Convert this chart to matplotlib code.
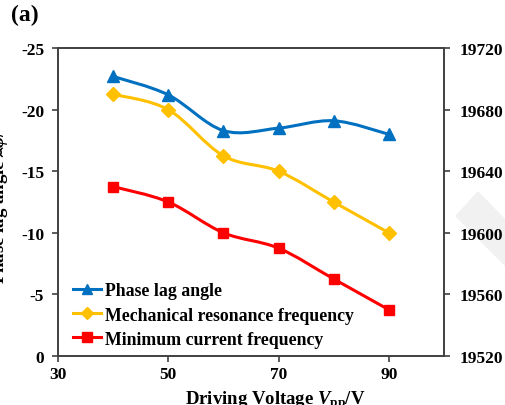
import numpy as np
import matplotlib
matplotlib.use('Agg')
import matplotlib.pyplot as plt
from matplotlib.path import Path
from matplotlib.patches import PathPatch, Polygon
from matplotlib.lines import Line2D

plt.rcParams['font.family'] = 'Liberation Serif'
plt.rcParams['font.weight'] = 'bold'
plt.rcParams['axes.labelweight'] = 'bold'
plt.rcParams['axes.unicode_minus'] = False
plt.rcParams['mathtext.fontset'] = 'custom'
plt.rcParams['mathtext.rm'] = 'Liberation Serif:bold'
plt.rcParams['mathtext.it'] = 'Liberation Serif:italic:bold'

# Data
voltage = [40, 50, 60, 70, 80, 90]
phase_lag = [-22.7, -21.2, -18.3, -18.5, -19.1, -18.0]
mech_freq = [19690, 19680, 19650, 19640, 19620, 19600]
min_current_freq = [19630, 19620, 19600, 19590, 19570, 19550]

x_ticks = [30, 50, 70, 90]
left_ticks = [0, -5, -10, -15, -20, -25]
right_ticks = [19520, 19560, 19600, 19640, 19680, 19720]

blue = '#0070C0'
yellow = '#FFC000'
red = '#FF0000'


def smooth_path(x, y):
    """Excel-style smoothed line: cubic Bezier segments through the points."""
    pts = np.column_stack([x, y]).astype(float)
    n = len(pts)
    verts = [pts[0]]
    codes = [Path.MOVETO]
    for i in range(n - 1):
        p0 = pts[i - 1] if i > 0 else pts[i]
        p1 = pts[i]
        p2 = pts[i + 1]
        p3 = pts[i + 2] if i + 2 < n else pts[i + 1]
        c1 = p1 + (p2 - p0) / 6.0
        c2 = p2 - (p3 - p1) / 6.0
        verts += [c1, c2, p2]
        codes += [Path.CURVE4] * 3
    return Path(verts, codes)


fig = plt.figure(figsize=(5.05, 4.06), dpi=100)
ax = fig.add_axes([0.115, 0.121, 0.764, 0.758])
ax2 = ax.twinx()

# faint watermark on the right edge, behind everything
fig.patches.append(Polygon([(455 / 505, 1 - 217 / 406), (478 / 505, 1 - 192 / 406),
                            (505 / 505, 1 - 220 / 406), (505 / 505, 1 - 267 / 406)],
                           closed=True, transform=fig.transFigure,
                           facecolor='#f1f1f1', edgecolor='none', zorder=-5))

ax.add_patch(PathPatch(smooth_path(voltage, phase_lag), facecolor='none',
                       edgecolor=blue, lw=2.2, zorder=3))
ax.plot(voltage, phase_lag, ls='none', marker='^', ms=8, color=blue, zorder=4)

ax2.add_patch(PathPatch(smooth_path(voltage, mech_freq), facecolor='none',
                        edgecolor=yellow, lw=2.2, zorder=3))
ax2.plot(voltage, mech_freq, ls='none', marker='D', ms=7, color=yellow, zorder=4)

ax2.add_patch(PathPatch(smooth_path(voltage, min_current_freq), facecolor='none',
                        edgecolor=red, lw=2.2, zorder=3))
ax2.plot(voltage, min_current_freq, ls='none', marker='s', ms=7.5, color=red, zorder=4)

ax.set_xlim(30, 100)
ax.set_ylim(0, -25)
ax2.set_ylim(19520, 19720)
ax.set_xticks(x_ticks)
ax.set_yticks(left_ticks)
ax2.set_yticks(right_ticks)

for a in (ax, ax2):
    a.tick_params(labelsize=12.5, direction='out', length=4, width=1.2, color='#404040')
    for s in a.spines.values():
        s.set_color('#404040')
        s.set_linewidth(1.2)
ax2.tick_params(pad=7.5)
ax.tick_params(axis='y', pad=6)

ax.set_xlabel('Driving Voltage $V_{\\rm pp}$/V', fontsize=13.5)
ax.xaxis.set_label_coords(0.562, -0.105)
ax.set_ylabel('Phase lag angle ∠$\\varphi$/°', fontsize=13.5)
ax.yaxis.set_label_coords(-0.125, 0.5)

fig.text(0.022, 0.962, '(a)', fontsize=17, fontweight='bold', va='center')

handles = [
    Line2D([], [], color=blue, lw=2.2, marker='^', ms=7),
    Line2D([], [], color=yellow, lw=2.2, marker='D', ms=6),
    Line2D([], [], color=red, lw=2.2, marker='s', ms=6.5),
]
labels = ['Phase lag angle', 'Mechanical resonance frequency', 'Minimum current frequency']
ax.legend(handles, labels, loc='lower left', bbox_to_anchor=(0.01, -0.008), frameon=False,
          fontsize=12.8, handlelength=1.6, handletextpad=0.2, labelspacing=0.4,
          borderaxespad=0.2)

fig.savefig('out.png', dpi=100)
